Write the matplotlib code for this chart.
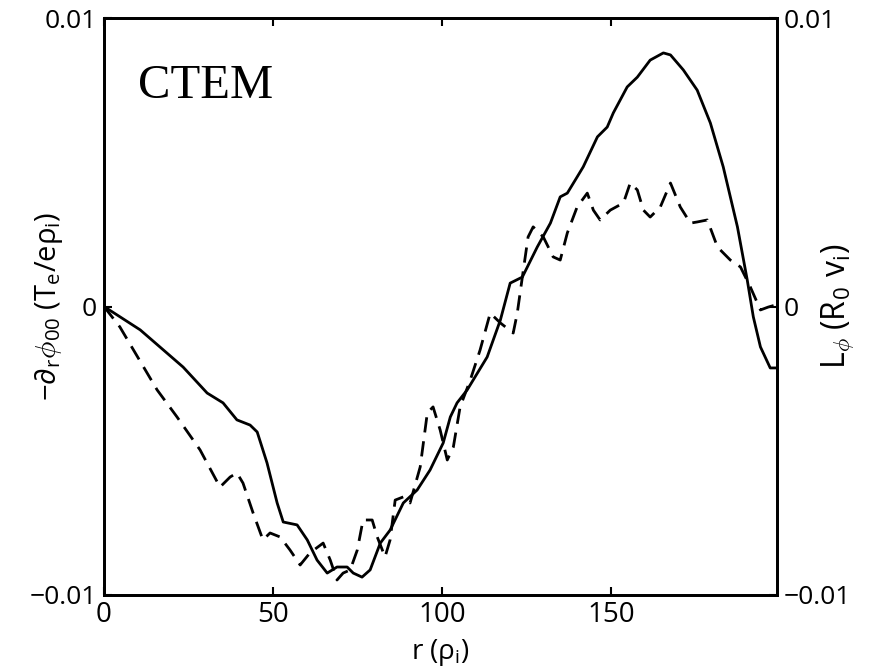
import matplotlib
matplotlib.use("Agg")
import matplotlib.pyplot as plt

plt.rcParams['font.family'] = ['Open Sans', 'DejaVu Sans']
plt.rcParams['mathtext.fontset'] = 'custom'
plt.rcParams['mathtext.rm'] = 'Open Sans'
plt.rcParams['mathtext.it'] = 'Open Sans'
plt.rcParams['mathtext.sf'] = 'Open Sans'

# Solid curve: -d_r phi_00 (x in rho_i, y in units of 1e-3)
solid_x = [0, 10.7, 23.4, 30.5, 35.2, 39.3, 43.2, 45.3, 48.2, 51.2, 53.0, 57.1, 60.1, 63.0,
           66.0, 68.9, 71.9, 73.7, 76.3, 78.7, 81.7, 84.6, 88.5, 92.6, 96.4, 100.3, 102.4,
           104.4, 107.4, 110.4, 113.3, 117.2, 120.1, 123.7, 128.1, 132.0, 134.9, 137.0,
           139.9, 141.7, 145.9, 148.8, 150.6, 154.7, 157.7, 161.5, 165.4, 167.5, 171.3,
           175.4, 179.3, 183.1, 187.3, 190.2, 192.0, 194.1, 197.0, 199.1]
solid_y = [0, -0.81, -2.10, -3.00, -3.34, -3.93, -4.11, -4.35, -5.42, -6.81, -7.47, -7.57,
           -8.09, -8.79, -9.24, -9.03, -9.03, -9.24, -9.38, -9.13, -8.20, -7.75, -6.81, -6.36,
           -5.67, -4.73, -3.83, -3.34, -2.89, -2.31, -1.75, -0.47, 0.81, 1.02, 2.06, 2.89,
           3.80, 3.93, 4.49, 4.84, 5.88, 6.22, 6.71, 7.61, 7.95, 8.54, 8.79, 8.72, 8.20, 7.50,
           6.36, 4.84, 2.76, 0.92, -0.36, -1.40, -2.13, -2.13]

# Dashed curve: L_phi
dash_x = [0, 4.7, 15.7, 21.6, 28.4, 34.3, 37.3, 39.3, 41.1, 44.1, 47.0, 49.1, 52.1, 55.0,
          58.0, 60.9, 64.8, 66.9, 68.9, 70.7, 72.8, 74.9, 76.6, 79.3, 80.8, 83.1, 84.6, 86.1,
          88.5, 90.5, 93.5, 95.6, 97.3, 99.4, 101.5, 103.3, 105.3, 108.3, 111.2, 114.2, 117.2,
          121.0, 122.2, 123.7, 125.4, 126.9, 129.9, 132.8, 134.9, 137.0, 139.9, 142.9, 144.7,
          146.7, 149.7, 153.6, 155.6, 157.7, 159.5, 161.5, 164.5, 167.5, 170.4, 173.4, 175.4,
          178.4, 181.4, 185.2, 188.2, 191.1, 194.1, 196.4, 198.5]
dash_y = [0, -0.71, -2.89, -3.83, -4.97, -6.26, -5.91, -5.77, -6.12, -7.16, -8.09, -7.85,
          -7.99, -8.44, -8.96, -8.54, -8.20, -8.79, -9.48, -9.24, -9.13, -8.44, -7.40, -7.40,
          -7.99, -8.68, -8.09, -6.71, -6.60, -6.81, -5.56, -3.69, -3.48, -4.28, -5.32, -4.87,
          -3.48, -2.55, -1.51, -0.23, -0.57, -0.92, -0.23, 1.02, 2.41, 2.76, 2.41, 1.72, 1.61,
          2.55, 3.45, 3.93, 3.34, 3.00, 3.34, 3.59, 4.28, 4.04, 3.34, 3.10, 3.45, 4.28, 3.45,
          2.89, 2.93, 3.00, 2.06, 1.61, 1.37, 0.68, -0.12, -0.02, 0.05]

x_ticks = [0, 50, 100, 150]
y_ticks = [-0.01, 0, 0.01]
y_ticklabels = ['\u22120.01', '0', '0.01']

fig = plt.figure(figsize=(8.7, 6.71), dpi=100)
ax = fig.add_axes([104/870, 76/671, (777-104)/870, (595-18)/671])
ax2 = ax.twinx()

ax.plot(solid_x, [v*1e-3 for v in solid_y], color='black', lw=2.0,
        solid_joinstyle='round', solid_capstyle='round')
ax2.plot(dash_x, [v*1e-3 for v in dash_y], color='black', lw=2.0, ls=(0, (5.5, 3.2)))

for a in (ax, ax2):
    a.set_xlim(0, 199)
    a.set_ylim(-0.01, 0.01)
    a.set_yticks(y_ticks)
    a.set_yticklabels(y_ticklabels)
    for s in a.spines.values():
        s.set_linewidth(2.0)
    a.tick_params(direction='in', length=6, width=1.5, labelsize=19, pad=5)

ax.set_xticks(x_ticks)
ax.tick_params(top=True)
ax.tick_params(axis='x', pad=4, labelsize=20)

ax.set_xlabel(r'r ($\rho_{\rm i}$)', fontsize=20)
ax.xaxis.set_label_coords(0.5, -0.072)
ax.set_ylabel(r'$-\partial_{\rm r}\phi_{00}$ ($\rm T_e/e\rho_i$)', fontsize=21)
ax.yaxis.set_label_coords(-0.058, 0.5)
ax2.set_ylabel(r'$\rm L_\phi$ ($\rm R_0\ v_i$)', fontsize=23)
ax2.yaxis.set_label_coords(1.064, 0.5)

ax.text(0.05, 0.862, 'CTEM', transform=ax.transAxes, fontsize=35,
        family=['Liberation Serif', 'DejaVu Serif'])

fig.savefig('out.png', dpi=100)
